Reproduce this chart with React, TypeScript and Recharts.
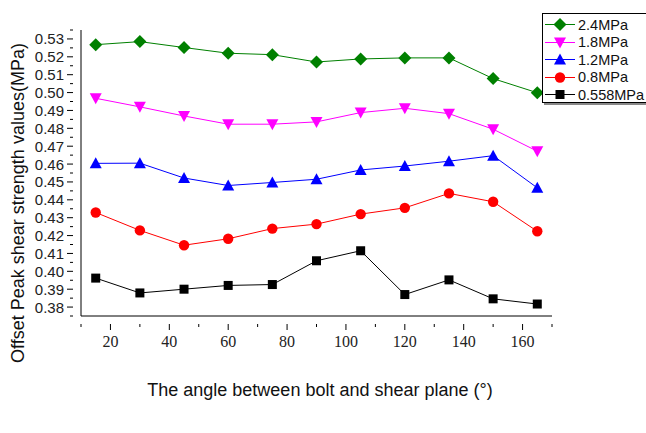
import React from "react";
import { LineChart, Line, XAxis, YAxis, Label } from "recharts";

const angles = [15, 30, 45, 60, 75, 90, 105, 120, 135, 150, 165];

const s24 = [0.5268, 0.5285, 0.5252, 0.522, 0.5212, 0.5171, 0.5188, 0.5194, 0.5194, 0.5078, 0.4999];
const s18 = [0.4968, 0.492, 0.4869, 0.4823, 0.4823, 0.4836, 0.4888, 0.4912, 0.4882, 0.4795, 0.4672];
const s12 = [0.4604, 0.4605, 0.4522, 0.448, 0.4497, 0.4515, 0.4567, 0.4589, 0.4616, 0.4647, 0.4467];
const s08 = [0.4329, 0.4229, 0.4146, 0.4182, 0.4239, 0.4264, 0.432, 0.4355, 0.4436, 0.4389, 0.4224];
const s0558 = [0.3962, 0.3879, 0.39, 0.3921, 0.3926, 0.4059, 0.4115, 0.387, 0.3952, 0.3846, 0.3817];

const xMajor = [20, 40, 60, 80, 100, 120, 140, 160];
const xMinor = [10, 30, 50, 70, 90, 110, 130, 150, 170];
const yMajor = [0.38, 0.39, 0.4, 0.41, 0.42, 0.43, 0.44, 0.45, 0.46, 0.47, 0.48, 0.49, 0.5, 0.51, 0.52, 0.53];
const yMinor = [0.375, 0.385, 0.395, 0.405, 0.415, 0.425, 0.435, 0.445, 0.455, 0.465, 0.475, 0.485, 0.495, 0.505, 0.515, 0.525, 0.535];

const data = angles.map((a, i) => ({
  angle: a,
  s24: s24[i],
  s18: s18[i],
  s12: s12[i],
  s08: s08[i],
  s0558: s0558[i],
}));

type Shape = "diamond" | "down" | "up" | "circle" | "square";

function Marker({ cx, cy, shape, color }: { cx: number; cy: number; shape: Shape; color: string }) {
  if (cx == null || cy == null) return null;
  switch (shape) {
    case "diamond":
      return <polygon points={`${cx},${cy - 6.5} ${cx + 6.5},${cy} ${cx},${cy + 6.5} ${cx - 6.5},${cy}`} fill={color} />;
    case "down":
      return <polygon points={`${cx - 6},${cy - 5} ${cx + 6},${cy - 5} ${cx},${cy + 6}`} fill={color} />;
    case "up":
      return <polygon points={`${cx},${cy - 6} ${cx + 6},${cy + 5} ${cx - 6},${cy + 5}`} fill={color} />;
    case "circle":
      return <circle cx={cx} cy={cy} r={5.2} fill={color} />;
    default:
      return <rect x={cx - 4.5} y={cy - 4.5} width={9} height={9} fill={color} />;
  }
}

const series: { key: string; name: string; color: string; shape: Shape }[] = [
  { key: "s24", name: "2.4MPa", color: "#008000", shape: "diamond" },
  { key: "s18", name: "1.8MPa", color: "#ff00ff", shape: "down" },
  { key: "s12", name: "1.2MPa", color: "#0000ff", shape: "up" },
  { key: "s08", name: "0.8MPa", color: "#ff0000", shape: "circle" },
  { key: "s0558", name: "0.558MPa", color: "#000000", shape: "square" },
];

function XTick(props: any) {
  const { x, y, payload } = props;
  const major = xMajor.includes(payload.value);
  return (
    <g>
      <line x1={x} y1={y} x2={x} y2={y + (major ? 6 : 3)} stroke="#000" strokeWidth={1} />
      {major && (
        <text x={x} y={y + 23} textAnchor="middle" fontFamily="Liberation Serif, Times New Roman, serif" fontSize={16} fill="#222">
          {payload.value}
        </text>
      )}
    </g>
  );
}

function YTick(props: any) {
  const { x, y, payload } = props;
  const v = Math.round(payload.value * 1000) / 1000;
  const major = yMajor.some((m) => Math.abs(m - v) < 1e-6);
  return (
    <g>
      <line x1={x} y1={y} x2={x - (major ? 6 : 3)} y2={y} stroke="#000" strokeWidth={1} />
      {major && (
        <text x={x - 9} y={y + 5.5} textAnchor="end" fontFamily="Liberation Sans, Arial, sans-serif" fontSize={15} fill="#222">
          {v.toFixed(2)}
        </text>
      )}
    </g>
  );
}

function LegendBox() {
  return (
    <div
      style={{
        position: "absolute",
        left: 542,
        top: 13,
        width: 110,
        height: 88,
        border: "1px solid #000",
        background: "#fff",
        boxShadow: "2px 2px 0 #888",
        fontFamily: "Liberation Sans, Arial, sans-serif",
        fontSize: 14.5,
        color: "#111",
      }}
    >
      {series.map((s, i) => (
        <div key={s.key} style={{ position: "absolute", left: 1, top: 2 + i * 17.5, height: 17, display: "flex", alignItems: "center" }}>
          <svg width={32} height={17}>
            <line x1={1} y1={8.5} x2={31} y2={8.5} stroke={s.color} strokeWidth={1} />
            <Marker cx={16} cy={8.5} shape={s.shape} color={s.color} />
          </svg>
          <span style={{ marginLeft: 2, whiteSpace: "nowrap" }}>{s.name}</span>
        </div>
      ))}
    </div>
  );
}

export default function App() {
  return (
    <div style={{ position: "absolute", left: 0, top: 0, width: 646, height: 433, background: "#fff", overflow: "hidden" }}>
      <LineChart width={646} height={433} data={data} margin={{ top: 30, right: 94, bottom: 87, left: 21 }}>
        <XAxis
          dataKey="angle"
          type="number"
          domain={[10, 170]}
          ticks={[...xMinor, ...xMajor].sort((a, b) => a - b)}
          interval={0}
          tick={<XTick />}
          tickLine={false}
          axisLine={{ stroke: "#000", strokeWidth: 1 }}
          height={30}
        >
          <Label
            content={() => (
              <text x={320} y={396} textAnchor="middle" fontFamily="Liberation Sans, Arial, sans-serif" fontSize={18} fill="#111">
                The angle between bolt and shear plane (°)
              </text>
            )}
          />
        </XAxis>
        <YAxis
          type="number"
          domain={[0.375, 0.535]}
          ticks={[...yMinor, ...yMajor].sort((a, b) => a - b)}
          interval={0}
          tick={<YTick />}
          tickLine={false}
          axisLine={{ stroke: "#000", strokeWidth: 1 }}
          width={60}
        >
          <Label
            content={() => (
              <text x={24} y={203} transform="rotate(-90 24 203)" textAnchor="middle" fontFamily="Liberation Sans, Arial, sans-serif" fontSize={18} fill="#111">
                Offset Peak shear strength values(MPa)
              </text>
            )}
          />
        </YAxis>
        {series.map((s) => (
          <Line
            key={s.key}
            dataKey={s.key}
            name={s.name}
            stroke={s.color}
            strokeWidth={1}
            isAnimationActive={false}
            dot={(p: any) => <Marker key={`${s.key}-${p.index}`} cx={p.cx} cy={p.cy} shape={s.shape} color={s.color} />}
            activeDot={false}
          />
        ))}
      </LineChart>
      <LegendBox />
    </div>
  );
}
